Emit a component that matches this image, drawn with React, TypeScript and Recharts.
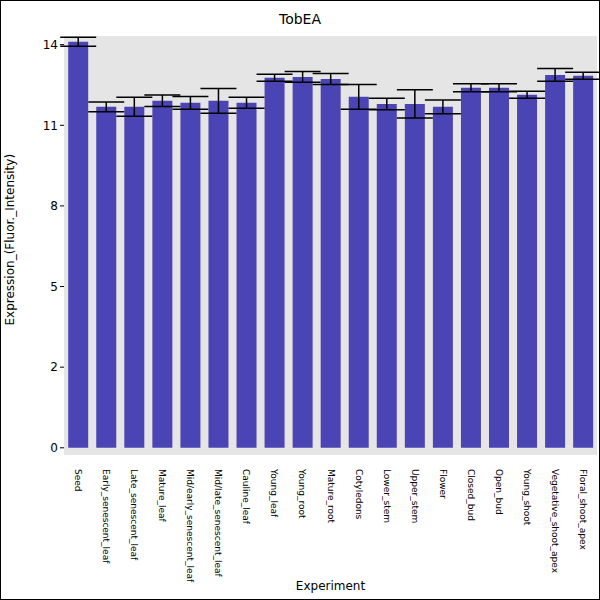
import React from 'react'
import { BarChart, Bar, XAxis, YAxis, ErrorBar } from 'recharts'

const categories = [
  'Seed', 'Early_senescent_leaf', 'Late_senescent_leaf', 'Mature_leaf', 'Mid/early_senescent_leaf',
  'Mid/late_senescent_leaf', 'Cauline_leaf', 'Young_leaf', 'Young_root', 'Mature_root', 'Cotyledons',
  'Lower_stem', 'Upper_stem', 'Flower', 'Closed_bud', 'Open_bud', 'Young_shoot',
  'Vegetative_shoot_apex', 'Floral_shoot_apex',
]
const values = [14.1, 11.84, 11.84, 12.05, 11.98, 12.05, 11.98, 12.85, 12.88, 12.81, 12.19, 11.94, 11.94, 11.84, 12.5, 12.5, 12.26, 12.95, 12.92]
const errors = [0.16, 0.17, 0.33, 0.2, 0.22, 0.43, 0.19, 0.12, 0.19, 0.19, 0.43, 0.2, 0.49, 0.24, 0.14, 0.14, 0.12, 0.22, 0.12]
const yTicks = [0, 2.8, 5.6, 8.4, 11.2, 14]

const data = categories.map((c, i) => ({ name: c, value: values[i], err: errors[i] }))

const XTick = (props: any) => {
  const { x, y, payload } = props
  return (
    <text x={x} y={y + 6} transform={`rotate(90 ${x} ${y + 6})`} fontSize={9} fill="#000" dy={3} textAnchor="start">
      {payload.value}
    </text>
  )
}

export default function App() {
  return (
    <div style={{ position: 'absolute', left: 0, top: 0, width: 600, height: 600, background: '#fff', fontFamily: 'DejaVu Sans' }}>
      <div style={{ position: 'absolute', left: 64, top: 36, width: 533, height: 419, background: '#e5e5e5' }} />
      <div style={{ position: 'absolute', left: 0, top: 0, width: 598, height: 598, border: '1px solid #000' }} />
      <div style={{ position: 'absolute', top: 11, width: 600, textAlign: 'center', fontSize: 14 }}>TobEA</div>
      <div style={{ position: 'absolute', left: 0, top: 0 }}>
        <BarChart width={600} height={600} data={data} margin={{ top: 36, right: 3, left: 0, bottom: 0 }} barCategoryGap="15%">
          <XAxis dataKey="name" interval={0} height={145} tick={<XTick />} tickLine={false} axisLine={false}
            label={{ value: 'Experiment', position: 'insideBottom', offset: 10, fontSize: 12, fill: '#000' }} />
          <YAxis domain={[-0.25, 14.3]} ticks={yTicks} width={64} tickFormatter={(v: number) => String(Math.floor(v))}
            tick={{ fontSize: 12, fill: '#000' }} axisLine={false} tickLine={{ stroke: '#000' }} tickSize={4}
            label={{ value: 'Expression_(Fluor._Intensity)', angle: -90, position: 'insideLeft', offset: 10, dy: 80, fontSize: 12, fill: '#000' }} />
          <Bar dataKey="value" fill="#4b44b4" isAnimationActive={false}>
            <ErrorBar dataKey="err" width={18} stroke="#000" strokeWidth={1.5} />
          </Bar>
        </BarChart>
      </div>
    </div>
  )
}
